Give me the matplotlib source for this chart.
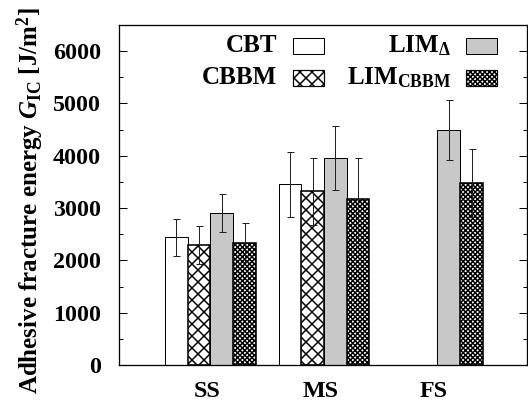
import matplotlib
matplotlib.use("Agg")
import matplotlib.pyplot as plt
from matplotlib.patches import Rectangle
import numpy as np

plt.rcParams['font.family'] = ['Liberation Serif', 'DejaVu Serif']
plt.rcParams['font.weight'] = 'bold'
plt.rcParams['mathtext.fontset'] = 'custom'
plt.rcParams['mathtext.rm'] = 'Liberation Serif:bold'
plt.rcParams['mathtext.bf'] = 'Liberation Serif:bold'
plt.rcParams['mathtext.it'] = 'Liberation Serif:bold:italic'
plt.rcParams['hatch.linewidth'] = 1.5

categories = ["SS", "MS", "FS"]
series_names = ["CBT", "CBBM", r"LIM$_{\Delta}$", r"LIM$_{\mathrm{CBBM}}$"]
cbt = [2440, 3455, np.nan]
cbt_err = [355, 620, np.nan]
cbbm = [2295, 3325, np.nan]
cbbm_err = [360, 640, np.nan]
lim_delta = [2910, 3965, 4495]
lim_delta_err = [365, 610, 575]
lim_cbbm = [2340, 3170, 3475]
lim_cbbm_err = [375, 795, 650]
yticks = [0, 1000, 2000, 3000, 4000, 5000, 6000]

values = [cbt, cbbm, lim_delta, lim_cbbm]
errors = [cbt_err, cbbm_err, lim_delta_err, lim_cbbm_err]
faces = ['white', 'white', '#c8c8c8', 'white']
hatches = [None, 'xx', None, 'xxxxx']
lws = [1.0, 1.6, 1.0, 1.6]

DPI = 72
fig = plt.figure(figsize=(528 / DPI, 406 / DPI), dpi=DPI)
ax = fig.add_axes([119 / 528, 1 - 365 / 406, (527 - 119) / 528, (365 - 25) / 406])

x = np.arange(len(categories))
w = 0.2
offsets = [-1.5 * w, -0.5 * w, 0.5 * w, 1.5 * w]
for vals, errs, fc, h, off, lw in zip(values, errors, faces, hatches, offsets, lws):
    ax.bar(x + off, vals, width=w, color=fc, edgecolor='black', hatch=h,
           linewidth=lw, zorder=2)
    ax.errorbar(x + off, vals, yerr=errs, fmt='none', ecolor='#222222',
                elinewidth=1.0, capsize=3.5, capthick=1.0, zorder=3)

ax.set_xlim(-0.806, 2.789)
ax.set_ylim(0, 6500)
ax.set_xticks(x - 0.03)
ax.set_xticklabels(categories, fontsize=24, fontweight='bold')
ax.set_yticks(yticks)
ax.set_yticklabels([str(t) for t in yticks], fontsize=24, fontweight='bold')
ax.set_yticks(np.arange(500, 6500, 1000), minor=True)
ax.tick_params(axis='x', length=0, pad=16)
ax.tick_params(axis='y', which='major', direction='in', length=8, right=True,
               width=1.0, pad=18)
ax.tick_params(axis='y', which='minor', direction='in', length=4, right=True,
               width=1.0)
for s in ax.spines.values():
    s.set_linewidth(1.3)

ax.set_ylabel(r"Adhesive fracture energy $G_{\mathrm{IC}}$ [J/m$^2$]",
              fontsize=25, fontweight='bold')
ax.yaxis.set_label_coords((46 - 119) / 408, (365 - 201) / 340)

# legend (gnuplot-style: right-aligned text, then sample box)
def px(xp, yp):
    return ((xp - 119) / (527 - 119), (365 - yp) / (365 - 25))

legend_items = [
    (series_names[0], 277, 293, 46, faces[0], hatches[0], lws[0]),
    (series_names[1], 277, 293, 78, faces[1], hatches[1], lws[1]),
    (series_names[2], 451, 466, 46, faces[2], hatches[2], lws[2]),
    (series_names[3], 451, 466, 78, faces[3], hatches[3], lws[3]),
]
for label, tx, bx, yc, fc, h, lw in legend_items:
    tx_a, ty_a = px(tx, yc)
    ax.text(tx_a, ty_a, label, transform=ax.transAxes, ha='right', va='center',
            fontsize=25, fontweight='bold')
    x0, y0 = px(bx, yc + 7.5)
    x1, y1 = px(bx + 31, yc - 7.5)
    ax.add_patch(Rectangle((x0, y0), x1 - x0, y1 - y0, transform=ax.transAxes,
                           facecolor=fc, edgecolor='black', hatch=h,
                           linewidth=min(lw, 1.2), clip_on=False, zorder=4))

fig.savefig("out.png", dpi=DPI)
